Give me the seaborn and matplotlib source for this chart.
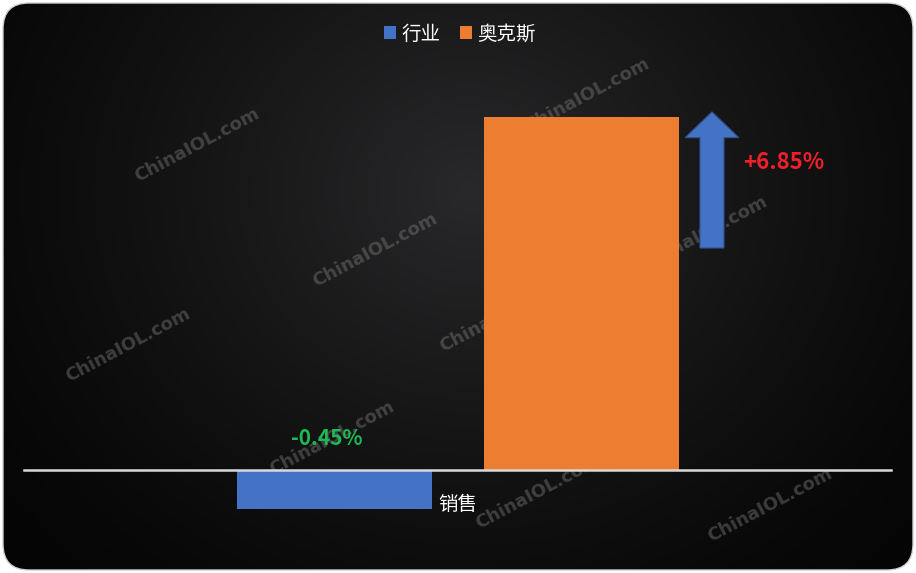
import matplotlib
matplotlib.use("Agg")

import matplotlib.pyplot as plt
import numpy as np
import pandas as pd
import seaborn as sns
from matplotlib.patches import FancyArrow, FancyBboxPatch


# chart data
CATEGORIES = ["销售"]
SERIES = ["行业", "奥克斯"]
BAR_VALUES = [-0.76, 6.85]        # bar heights as drawn in the picture
LABEL_TEXTS = ["-0.45%", "+6.85%"]
SERIES_COLORS = ["#4472C4", "#ED7D31"]
LABEL_COLORS = ["#1DB954", "#F0202A"]
WATERMARK = "ChinaIOL.com"

W, H = 916, 573


def draw_background(fig):
    bg = fig.add_axes([0, 0, 1, 1], zorder=-1)
    bg.set_xlim(0, W)
    bg.set_ylim(H, 0)
    bg.axis("off")

    yy, xx = np.mgrid[0:H, 0:W]
    r = np.hypot((xx - 470) / 1.0, (yy - 190) / 0.9)
    t = np.clip(1 - r / 600, 0, 1) ** 1.3
    grad = 0.02 + 0.14 * t
    rgb = np.dstack([grad, grad, grad * 1.05])
    im = bg.imshow(np.clip(rgb, 0, 1), extent=[0, W, H, 0], aspect="auto", zorder=0)

    box = FancyBboxPatch((3, 3), W - 6, H - 6, boxstyle="round,pad=0,rounding_size=26",
                         transform=bg.transData, facecolor="none", edgecolor="#cfcfcf", lw=1.0)
    bg.add_patch(box)
    im.set_clip_path(box)

    # watermark text, sits under the bars
    spots = [(197, 145), (375, 250), (587, 95), (128, 345), (705, 233),
             (502, 315), (332, 438), (538, 492), (770, 505)]
    for x, y in spots:
        bg.text(x, y, WATERMARK, rotation=28, rotation_mode="anchor", ha="center", va="center",
                fontsize=13, fontweight="bold", color="#7a7a7a", alpha=0.45,
                family=["DejaVu Sans"], zorder=1)


def main():
    sns.set_theme(style="white")
    plt.rcParams["font.family"] = ["Noto Sans CJK SC", "DejaVu Sans"]

    df = pd.DataFrame({
        "category": CATEGORIES * len(SERIES),
        "series": SERIES,
        "value": BAR_VALUES,
    })

    fig = plt.figure(figsize=(W / 100, H / 100), dpi=100, facecolor="white")
    draw_background(fig)

    ax = fig.add_axes([24 / W, 1 - 560 / H, 867 / W, 500 / H])
    ax.set_facecolor("none")
    sns.barplot(data=df, x="category", y="value", hue="series", hue_order=SERIES,
                palette=SERIES_COLORS, saturation=1, width=0.8, gap=0.211,
                linewidth=0, ax=ax, zorder=2)

    ax.set_xlim(-0.7028, 0.7012)
    ax.set_ylim(-1.747, 7.957)
    ax.set_xlabel("")
    ax.set_ylabel("")
    ax.set_yticks([])
    for side in ["top", "left", "right"]:
        ax.spines[side].set_visible(False)
    ax.spines["bottom"].set_position(("data", 0))
    ax.spines["bottom"].set_color("#d9d9d9")
    ax.spines["bottom"].set_linewidth(1.8)
    ax.spines["bottom"].set_zorder(3)
    ax.tick_params(axis="x", length=0, pad=17, labelsize=14, labelcolor="white")

    # value labels
    bars = ax.patches[:len(SERIES)]
    b0 = bars[0]
    ax.text(b0.get_x() + b0.get_width() / 2 - 0.013, 0.62, LABEL_TEXTS[0],
            ha="center", va="center", fontsize=15, fontweight="bold", color=LABEL_COLORS[0], zorder=5)
    ax.text(0.528, 5.977, LABEL_TEXTS[1],
            ha="center", va="center", fontsize=16, fontweight="bold", color=LABEL_COLORS[1], zorder=5)

    # up arrow next to the orange bar
    arrow = FancyArrow(0.4113, 4.308, 0, BAR_VALUES[1] + 0.1 - 4.308, width=0.0389,
                       head_width=0.0870, head_length=0.5, length_includes_head=True,
                       facecolor=SERIES_COLORS[0], edgecolor="#2F528F", lw=0.8, zorder=4)
    ax.add_patch(arrow)

    handles, labels = ax.get_legend_handles_labels()
    ax.legend(handles, labels, loc="center", bbox_to_anchor=(460 / W, 1 - 34 / H),
              bbox_transform=fig.transFigure, ncol=2, frameon=False, fontsize=14,
              labelcolor="white", handlelength=0.6, handleheight=0.6, handletextpad=0.3,
              columnspacing=1.0)

    fig.savefig("out.png", dpi=100, facecolor="white")
    plt.close(fig)


if __name__ == "__main__":
    main()
